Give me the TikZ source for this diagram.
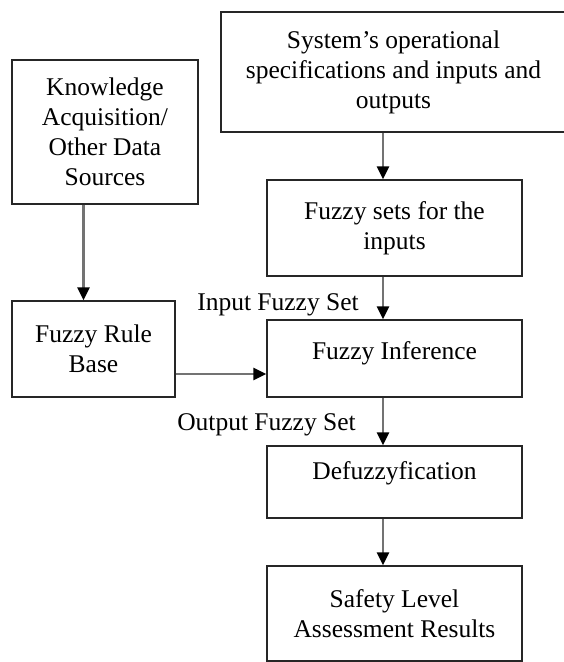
\documentclass[tikz,border=0pt]{standalone}
\usepackage{fontspec}
\setmainfont{Liberation Serif}
\usetikzlibrary{arrows.meta}
\begin{document}
\begin{tikzpicture}[x=1pt,y=-1pt,
  box/.style={draw=black!85,line width=1.5pt,align=center,inner sep=0pt,
    font=\fontsize{25.5}{30}\selectfont},
  lbl/.style={font=\fontsize{25.5}{30}\selectfont,inner sep=0pt},
  arr/.style={draw=black!55,line width=2.6pt,
    -{Triangle[length=13pt,width=12pt,color=black]}}]
 \useasboundingbox (0,0) rectangle (564,662);
 % boxes
 \node[box,minimum width=345pt,minimum height=120pt] (sys) at (393.5,72)
   {System’s operational\\specifications and inputs and\\outputs};
 \node[box,minimum width=186pt,minimum height=144pt] (know) at (105,132)
   {Knowledge\\Acquisition/\\Other Data\\Sources};
 \node[box,minimum width=255pt,minimum height=96pt] (sets) at (394.5,228)
   {Fuzzy sets for the\\inputs};
 \node[box,minimum width=163pt,minimum height=96pt] (rules) at (93.5,349)
   {Fuzzy Rule\\Base};
 \node[box,minimum width=255pt,minimum height=77pt,text depth=15pt] (infer) at (394.5,358.5)
   {Fuzzy Inference};
 \node[box,minimum width=255pt,minimum height=72pt,text depth=23pt] (defuz) at (394.5,482)
   {Defuzzyfication};
 \node[box,minimum width=255pt,minimum height=95pt] (safe) at (394.5,613.5)
   {Safety Level\\Assessment Results};
 % labels
 \node[lbl] (inset) at (278,305) {Input Fuzzy Set};
 \node[lbl] (outset) at (266.5,425) {Output Fuzzy Set};
 % arrows
 \coordinate (spine) at (383,0);
 \coordinate (kspine) at (83.5,0);
 \coordinate (rspine) at (0,374);
 \draw[arr] (spine |- sys.south) -- (spine |- sets.north);
 \draw[arr] (spine |- sets.south) -- (spine |- infer.north);
 \draw[arr] (spine |- infer.south) -- (spine |- defuz.north);
 \draw[arr] (spine |- defuz.south) -- (spine |- safe.north);
 \draw[arr] (kspine |- know.south) -- (kspine |- rules.north);
 \draw[arr] (rules.east |- rspine) -- (infer.west |- rspine);
\end{tikzpicture}
\end{document}
